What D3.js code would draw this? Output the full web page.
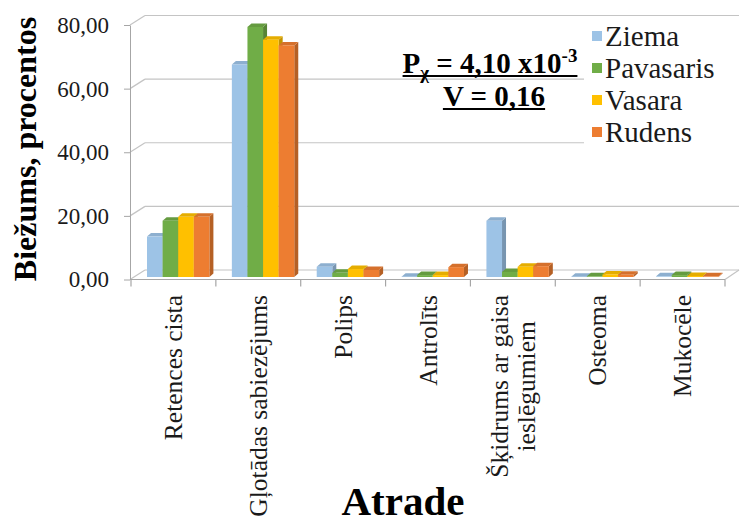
<!DOCTYPE html>
<html>
<head>
<meta charset="utf-8">
<script src="https://cdn.jsdelivr.net/npm/d3@7"></script>
<style>
  html, body { margin: 0; padding: 0; background: #fff; }
  svg { display: block; }
  svg text { font-family: "Liberation Serif", "Times New Roman", "DejaVu Serif", serif; }
</style>
</head>
<body>
<svg id="chart" width="751" height="521"></svg>
<script>
// Findings by season (%)
const categories = ["Retences cista", "Gļotādas sabiezējums", "Polips", "Antrolīts",
                    "Šķidrums ar gaisa ieslēgumiem", "Osteoma", "Mukocēle"];
const seriesNames = ["Ziema", "Pavasaris", "Vasara", "Rudens"];
const ziema     = [12.7, 66.8, 3.2, 0.1, 17.7, 0.1, 0.2];
const pavasaris = [17.7, 78.6, 1.3, 0.6, 1.6, 0.2, 0.6];
const vasara    = [18.9, 74.6, 2.5, 0.6, 3.2, 0.8, 0.3];
const rudens    = [18.9, 72.8, 2.2, 3.1, 3.4, 0.7, 0.2];
const yTicks = [0, 20, 40, 60, 80];
const seriesColors = ["#9DC3E6", "#70AD47", "#FFC000", "#ED7D31"];

const seriesValues = [ziema, pavasaris, vasara, rudens];
const serif = "Liberation Serif, Times New Roman, DejaVu Serif, serif";
const svg = d3.select("#chart");

// ---- 3D box geometry ----
const wallDepth = { dx: 14, dy: -9.5 };      // front plane -> back wall
const barDepth  = { dx: 4,  dy: -3.5 };      // thickness of each column
const barShift  = 2.5;                         // columns stand slightly behind the front edge

const x = d3.scaleBand().domain(categories).range([131, 725]).paddingInner(0).paddingOuter(0);
const x1 = d3.scaleBand().domain(seriesNames).range([0, 62.4]).padding(0);
const yFront = d3.scaleLinear().domain([0, 80]).range([279.5, 25]);
const yBack = v => yFront(v) + wallDepth.dy;
const yBar = v => yFront(v) - barShift;

const gridColor = "#c4c4c4";
const axisColor = "#a6a6a6";

// ---- walls: gridlines on back wall and left side wall ----
const grid = svg.append("g");
yTicks.forEach(v => {
  grid.append("line")
    .attr("x1", x.range()[0] + wallDepth.dx).attr("x2", x.range()[1] + wallDepth.dx)
    .attr("y1", yBack(v)).attr("y2", yBack(v))
    .attr("stroke", gridColor).attr("stroke-width", 1.2);
  grid.append("line")
    .attr("x1", x.range()[0] - 1).attr("x2", x.range()[0] + wallDepth.dx)
    .attr("y1", yFront(v)).attr("y2", yBack(v))
    .attr("stroke", gridColor).attr("stroke-width", 1.2);
});
// floor right edge
grid.append("line")
  .attr("x1", x.range()[1]).attr("y1", yFront(0))
  .attr("x2", x.range()[1] + wallDepth.dx).attr("y2", yBack(0))
  .attr("stroke", gridColor).attr("stroke-width", 1.2);

// ---- legend background hides the gridlines behind it ----
svg.append("rect").attr("x", 584).attr("y", 19).attr("width", 167).attr("height", 132).attr("fill", "#fff");

// ---- columns ----
const bars = svg.append("g");
categories.forEach((cat, ci) => {
  seriesNames.forEach((s, si) => {
    const v = seriesValues[si][ci];
    const x0 = x(cat) + 16 + x1(s);
    const w = x1.bandwidth();
    const top = yBar(v), base = yBar(0);
    const c = d3.color(seriesColors[si]);
    const g = bars.append("g");
    // side face
    g.append("path")
      .attr("d", `M${x0 + w},${top}L${x0 + w + barDepth.dx},${top + barDepth.dy}L${x0 + w + barDepth.dx},${base + barDepth.dy}L${x0 + w},${base}Z`)
      .attr("fill", c.darker(0.75));
    // top face
    g.append("path")
      .attr("d", `M${x0},${top}L${x0 + w},${top}L${x0 + w + barDepth.dx},${top + barDepth.dy}L${x0 + barDepth.dx},${top + barDepth.dy}Z`)
      .attr("fill", c.darker(0.3));
    // front face
    g.append("rect")
      .attr("x", x0).attr("y", top).attr("width", w).attr("height", Math.max(0, base - top))
      .attr("fill", c);
  });
});

// ---- value axis ----
const locale = d3.formatLocale({ decimal: ",", thousands: " ", grouping: [3], currency: ["", ""] });
const fmt = locale.format(".2f");
const yAxis = svg.append("g")
  .attr("transform", `translate(${x.range()[0] - 1},0)`)
  .call(d3.axisLeft(yFront).tickValues(yTicks).tickFormat(fmt).tickSize(6).tickSizeOuter(0).tickPadding(15));
yAxis.attr("font-family", null);
yAxis.select(".domain").attr("stroke", axisColor);
yAxis.selectAll(".tick line").attr("stroke", axisColor);
yAxis.selectAll(".tick text")
  .style("font-family", serif).attr("font-size", 23).attr("fill", "#1a1a1a");

// ---- category axis (front floor edge) ----
const xAxis = svg.append("g");
xAxis.append("line")
  .attr("x1", x.range()[0] - 1).attr("x2", x.range()[1])
  .attr("y1", yFront(0)).attr("y2", yFront(0))
  .attr("stroke", axisColor).attr("stroke-width", 1.2);
const boundaries = categories.map(c => x(c)).concat([x.range()[1]]);
boundaries.forEach(bx => {
  xAxis.append("line")
    .attr("x1", bx).attr("x2", bx).attr("y1", yFront(0)).attr("y2", yFront(0) + 7)
    .attr("stroke", axisColor).attr("stroke-width", 1.2);
});

// rotated category labels; long names wrap onto a second line
function wrapLabel(t) {
  if (t.length <= 22) return [t];
  const i = t.lastIndexOf(" ");
  return [t.slice(0, i), t.slice(i + 1)];
}
const labelTop = 295, labelSize = 25.5, lineGap = 27;
categories.forEach(cat => {
  const lines = wrapLabel(cat);
  const cx = x(cat) + x.bandwidth() / 2;
  const g = xAxis.append("g");
  const texts = lines.map(ln => g.append("text")
    .style("font-family", serif).attr("font-size", labelSize).attr("fill", "#1a1a1a")
    .attr("text-anchor", "middle").attr("dominant-baseline", "central")
    .text(ln));
  const maxLen = d3.max(texts, t => t.node().getComputedTextLength());
  const cy = labelTop + maxLen / 2;
  texts.forEach((t, li) => {
    const off = (li - (lines.length - 1) / 2) * lineGap;
    t.attr("transform", `translate(${cx + off},${cy}) rotate(-90)`);
  });
});

// ---- axis titles ----
svg.append("text")
  .attr("transform", "translate(25,149) rotate(-90)")
  .attr("text-anchor", "middle").attr("dominant-baseline", "central")
  .style("font-family", serif).attr("font-size", 32).attr("font-weight", "bold")
  .text("Biežums, procentos");

svg.append("text")
  .attr("x", 403).attr("y", 515)
  .attr("text-anchor", "middle")
  .style("font-family", serif).attr("font-size", 41).attr("font-weight", "bold")
  .text("Atrade");

// ---- statistics note ----
const note = svg.append("g").attr("font-weight", "bold").attr("fill", "#000");
const n1 = note.append("text").attr("x", 490).attr("y", 73).attr("text-anchor", "middle")
  .style("font-family", serif).attr("font-size", 29);
n1.append("tspan").text("P");
n1.append("tspan").attr("font-size", 19).attr("dy", 6).text("χ");
n1.append("tspan").attr("dy", -6).text(" = 4,10 x10");
n1.append("tspan").attr("font-size", 19).attr("dy", -11).text("-3");
const n2 = note.append("text").attr("x", 494).attr("y", 106).attr("text-anchor", "middle")
  .style("font-family", serif).attr("font-size", 29)
  .text("V = 0,16");
[[n1, 76], [n2, 109]].forEach(([t, uy]) => {
  const b = t.node().getBBox();
  note.append("line").attr("x1", b.x).attr("x2", b.x + b.width).attr("y1", uy).attr("y2", uy)
    .attr("stroke", "#000").attr("stroke-width", 2);
});

// ---- legend ----
const legend = svg.append("g").attr("transform", "translate(592,0)");
seriesNames.forEach((s, i) => {
  const cy = 36 + i * 32;
  legend.append("rect").attr("x", 0).attr("y", cy - 5).attr("width", 10).attr("height", 10)
    .attr("fill", seriesColors[i]);
  legend.append("text").attr("x", 13).attr("y", cy).attr("dominant-baseline", "central")
    .style("font-family", serif).attr("font-size", 29).attr("fill", "#1a1a1a").text(s);
});
</script>
</body>
</html>
